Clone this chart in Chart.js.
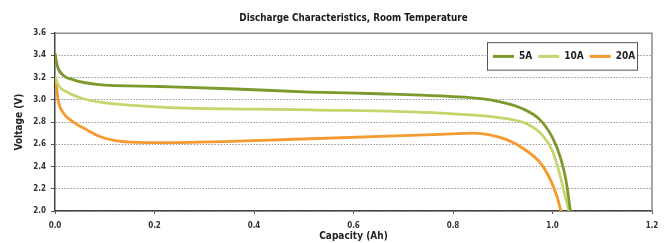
<!DOCTYPE html>
<html>
<head>
<meta charset="utf-8">
<script src="https://cdn.jsdelivr.net/npm/chart.js@4/dist/chart.umd.min.js"></script>
<style>
  body { margin: 0; background: #fff; }
  canvas { display: block; }
</style>
</head>
<body>
<canvas id="chart" width="668" height="243"></canvas>
<script>
// Values
const seriesNames = ['5A', '10A', '20A'];

const cap5A  = [0, 0.005, 0.017, 0.037, 0.084, 0.21, 0.35, 0.513, 0.65, 0.775, 0.875, 0.94, 0.975, 1.0, 1.016, 1.027, 1.036];
const volt5A = [3.42, 3.30, 3.22, 3.18, 3.14, 3.12, 3.10, 3.07, 3.055, 3.035, 3.0, 2.92, 2.82, 2.66, 2.48, 2.28, 2.0];

const cap10A  = [0, 0.007, 0.024, 0.057, 0.09, 0.157, 0.231, 0.513, 0.775, 0.909, 0.95, 0.98, 1.0, 1.014, 1.025, 1.033];
const volt10A = [3.21, 3.13, 3.07, 3.01, 2.98, 2.95, 2.93, 2.91, 2.88, 2.83, 2.78, 2.68, 2.54, 2.34, 2.14, 2.0];

const cap20A  = [0, 0.002, 0.007, 0.017, 0.037, 0.064, 0.09, 0.124, 0.151, 0.231, 0.513, 0.775, 0.841, 0.909, 0.942, 0.976, 0.996, 1.009, 1.017];
const volt20A = [3.21, 3.15, 2.98, 2.88, 2.80, 2.73, 2.67, 2.63, 2.62, 2.615, 2.65, 2.69, 2.70, 2.64, 2.56, 2.43, 2.28, 2.13, 2.0];

const colors = ['#7c9a2b', '#c6d56e', '#f49a30'];
const FONT = '"DejaVu Sans Condensed", "DejaVu Sans", sans-serif';

function toPoints(xs, ys) {
    return xs.map((x, i) => ({ x: x, y: ys[i] }));
}

// grey frame on top and right of the plot
const framePlugin = {
    id: 'frame',
    beforeDatasetsDraw(chart) {
        const a = chart.chartArea;
        const ctx = chart.ctx;
        ctx.save();
        ctx.strokeStyle = '#8c8c8c';
        ctx.lineWidth = 1.5;
        ctx.beginPath();
        ctx.moveTo(a.left, a.top);
        ctx.lineTo(a.right, a.top);
        ctx.lineTo(a.right, a.bottom);
        ctx.stroke();
        ctx.restore();
    }
};

// boxed legend inside the plot, top right
const boxLegend = {
    id: 'boxLegend',
    afterDraw(chart) {
        const a = chart.chartArea;
        const ctx = chart.ctx;
        const w = 150, h = 27.5;
        const left = a.right - 15 - w;
        const top = a.top + 9;
        ctx.save();
        ctx.fillStyle = '#fff';
        ctx.fillRect(left, top, w, h);
        ctx.strokeStyle = '#555';
        ctx.lineWidth = 1;
        ctx.strokeRect(left + 0.5, top + 0.5, w, h);
        ctx.font = 'bold 10px ' + FONT;
        ctx.textBaseline = 'middle';
        ctx.fillStyle = '#222';
        let x = left + 6;
        const cy = top + h / 2 + 0.5;
        chart.data.datasets.forEach(ds => {
            ctx.strokeStyle = ds.borderColor;
            ctx.lineWidth = 3;
            ctx.beginPath();
            ctx.moveTo(x, cy);
            ctx.lineTo(x + 21, cy);
            ctx.stroke();
            ctx.fillText(ds.label, x + 26, cy);
            x += 26 + ctx.measureText(ds.label).width + 6;
        });
        ctx.restore();
    }
};

const chart = new Chart(document.getElementById('chart'), {
    type: 'line',
    data: {
        datasets: [
            { label: seriesNames[0], data: toPoints(cap5A, volt5A), borderColor: colors[0] },
            { label: seriesNames[1], data: toPoints(cap10A, volt10A), borderColor: colors[1] },
            { label: seriesNames[2], data: toPoints(cap20A, volt20A), borderColor: colors[2] }
        ]
    },
    options: {
        responsive: false,
        devicePixelRatio: 1,
        animation: false,
        layout: { padding: { left: 0, right: 16, top: 0, bottom: 0 } },
        elements: {
            line: { borderWidth: 2.8, cubicInterpolationMode: 'monotone', fill: false },
            point: { radius: 0 }
        },
        plugins: {
            legend: { display: false },
            tooltip: { enabled: false },
            title: {
                display: true,
                fullSize: false,
                text: 'Discharge Characteristics, Room Temperature',
                color: '#1a1a1a',
                font: { family: FONT, size: 9.8, weight: 'bold' },
                padding: { top: 12.7, bottom: 8.7 }
            }
        },
        scales: {
            x: {
                type: 'linear',
                min: 0,
                max: 1.2,
                afterFit: s => { s.height = 32; },
                grid: { drawOnChartArea: false, tickColor: '#555', tickLength: 3 },
                border: { color: '#444', width: 1.5 },
                ticks: {
                    stepSize: 0.2,
                    padding: 7,
                    color: '#333',
                    font: { family: FONT, size: 8, weight: 'bold' },
                    callback: v => v.toFixed(1)
                },
                title: {
                    display: true,
                    text: 'Capacity (Ah)',
                    color: '#222',
                    font: { family: FONT, size: 10, weight: 'bold' },
                    padding: { top: 0, bottom: 1 }
                }
            },
            y: {
                min: 2.0,
                max: 3.6,
                afterFit: s => { s.width = 55; },
                grid: { color: '#9a9a9a', lineWidth: 1, tickColor: '#555', tickLength: 4 },
                border: { color: '#444', width: 1.5, dash: [1.5, 1.5] },
                ticks: {
                    stepSize: 0.2,
                    padding: 5,
                    color: '#333',
                    font: { family: FONT, size: 8, weight: 'bold' },
                    callback: v => v.toFixed(1)
                },
                title: {
                    display: true,
                    text: 'Voltage (V)',
                    color: '#222',
                    font: { family: FONT, size: 10, weight: 'bold' },
                    padding: { top: 13, bottom: 0 }
                }
            }
        }
    },
    plugins: [framePlugin, boxLegend]
});
</script>
</body>
</html>
